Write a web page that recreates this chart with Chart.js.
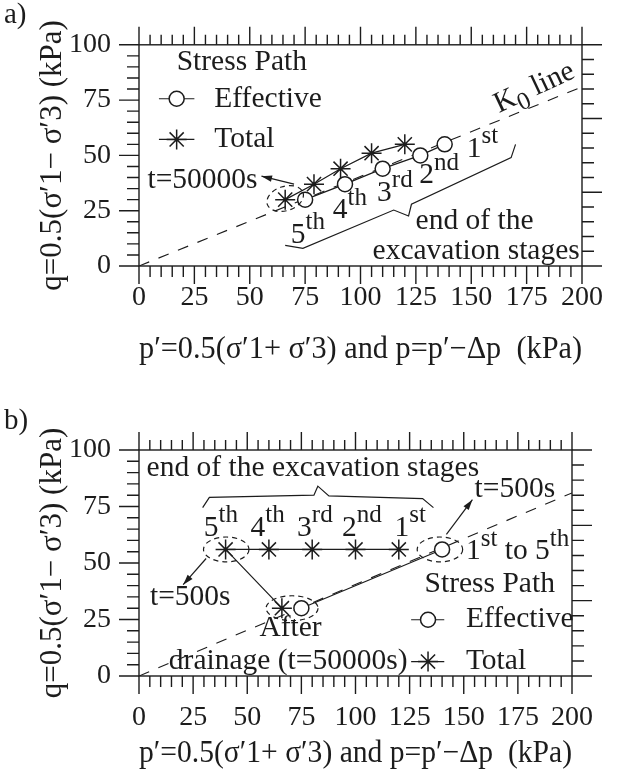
<!DOCTYPE html>
<html>
<head>
<meta charset="utf-8">
<script src="https://cdn.jsdelivr.net/npm/chart.js@4.4.0/dist/chart.umd.min.js"></script>
<style>
  html, body { margin: 0; padding: 0; background: #fff; }
  canvas { display: block; }
</style>
</head>
<body>
<canvas id="chartA" width="618" height="388"></canvas>
<canvas id="chartB" width="618" height="388"></canvas>
<script>
// tick labels
const xTicks = [0, 25, 50, 75, 100, 125, 150, 175, 200];
const yTicks = [0, 25, 50, 75, 100];
const minorStep = 5;

// K0 line
const k0P = [0, 200];
const k0Q = [0, 81];

// a) end of excavation stages 1st..5th
const effPA = [138, 127, 110, 93, 75];
const effQA = [55, 50, 44, 37, 30];
const totPA = [120, 105, 91, 79, 66];
const totQA = [55, 51, 44, 37, 30];

// b) stages 1st..5th then after drainage
const effPB = [140, 75];
const effQB = [56, 30];
const totPB = [120, 100, 80, 60, 40, 66];
const totQB = [56, 56, 56, 56, 56, 30];

const FONT = "'Liberation Serif', 'Times New Roman', serif";
const INK = '#1c1c1c';

const zip = (xs, ys) => xs.map((v, i) => ({ x: v, y: ys[i] }));

function richText(ctx, parts, x, y, size, align) {
  const fontFor = p => (p[1] ? size * 0.85 : size) + 'px ' + FONT;
  const widths = parts.map(p => { ctx.font = fontFor(p); return ctx.measureText(p[0]).width; });
  const total = widths.reduce((a, b) => a + b, 0);
  let cx = align === 'center' ? x - total / 2 : align === 'right' ? x - total : x;
  parts.forEach((p, i) => {
    ctx.font = fontFor(p);
    const dy = p[1] === 1 ? -size * 0.42 : p[1] === -1 ? size * 0.3 : 0;
    ctx.fillText(p[0], cx, y + dy);
    cx += widths[i];
  });
}

function drawMarker(ctx, style, x, y) {
  ctx.beginPath();
  if (style === 'circle') {
    ctx.arc(x, y, 7.5, 0, Math.PI * 2);
    ctx.fillStyle = '#fff';
    ctx.fill();
  } else {
    for (let k = 0; k < 4; k++) {
      const a = k * Math.PI / 4;
      ctx.moveTo(x - 10 * Math.cos(a), y - 10 * Math.sin(a));
      ctx.lineTo(x + 10 * Math.cos(a), y + 10 * Math.sin(a));
    }
  }
  ctx.stroke();
}

// box frame with outward ticks on all four sides
const frameTicks = {
  id: 'frameTicks',
  afterDraw(chart) {
    const { ctx, chartArea: a, scales } = chart;
    ctx.save();
    ctx.strokeStyle = INK;
    ctx.lineWidth = 1.4;
    ctx.strokeRect(a.left, a.top, a.right - a.left, a.bottom - a.top);
    ctx.beginPath();
    for (let v = scales.x.min; v <= scales.x.max; v += minorStep) {
      const x = scales.x.getPixelForValue(v);
      const major = xTicks.includes(v);
      ctx.moveTo(x, a.bottom); ctx.lineTo(x, a.bottom + (major ? 18 : 11));
      ctx.moveTo(x, a.top); ctx.lineTo(x, a.top - (major ? 18 : 10));
    }
    for (let v = scales.y.min; v <= scales.y.max; v += minorStep) {
      const y = scales.y.getPixelForValue(v);
      ctx.moveTo(a.left, y); ctx.lineTo(a.left - (yTicks.includes(v) ? 20 : 12), y);
    }
    for (let i = 0; i <= 15; i++) {
      const y = a.top + (a.bottom - a.top) * i / 15;
      ctx.moveTo(a.right, y); ctx.lineTo(a.right + (i % 5 === 0 ? 20 : 12), y);
    }
    ctx.stroke();
    ctx.restore();
  }
};

// labels, braces, ellipses, arrows and the inset legend
const notes = {
  id: 'notes',
  afterDatasetsDraw(chart, args, opts) {
    const { ctx, scales } = chart;
    const X = v => scales.x.getPixelForValue(v);
    const Y = v => scales.y.getPixelForValue(v);
    ctx.save();
    ctx.strokeStyle = INK;
    ctx.fillStyle = INK;
    ctx.lineWidth = 1.2;

    (opts.lines || []).forEach(l => {
      ctx.beginPath();
      l.forEach((p, i) => i ? ctx.lineTo(X(p[0]), Y(p[1])) : ctx.moveTo(X(p[0]), Y(p[1])));
      ctx.stroke();
    });

    ctx.setLineDash([5, 4]);
    (opts.ellipses || []).forEach(e => {
      const rx = Math.abs(X(e.rx) - X(0));
      const ry = Math.abs(Y(e.ry) - Y(0));
      ctx.beginPath();
      ctx.ellipse(X(e.x), Y(e.y), rx, ry, (e.rot || 0) * Math.PI / 180, 0, Math.PI * 2);
      ctx.stroke();
    });
    ctx.setLineDash([]);

    (opts.arrows || []).forEach(ar => {
      const x1 = X(ar[0][0]), y1 = Y(ar[0][1]), x2 = X(ar[1][0]), y2 = Y(ar[1][1]);
      const ang = Math.atan2(y2 - y1, x2 - x1);
      ctx.beginPath();
      ctx.moveTo(x1, y1); ctx.lineTo(x2, y2);
      ctx.stroke();
      ctx.beginPath();
      ctx.moveTo(x2, y2);
      ctx.lineTo(x2 - 11 * Math.cos(ang - 0.3), y2 - 11 * Math.sin(ang - 0.3));
      ctx.lineTo(x2 - 11 * Math.cos(ang + 0.3), y2 - 11 * Math.sin(ang + 0.3));
      ctx.closePath();
      ctx.fill();
    });

    (opts.legend || []).forEach(it => {
      const y = Y(it.y);
      ctx.lineWidth = 1.2;
      ctx.beginPath();
      ctx.moveTo(X(it.x1), y); ctx.lineTo(X(it.x2), y);
      ctx.stroke();
      ctx.lineWidth = 1.5;
      drawMarker(ctx, it.style, X(it.xm), y);
      ctx.fillStyle = INK;
    });

    ctx.textBaseline = 'middle';
    (opts.texts || []).forEach(t => {
      ctx.save();
      ctx.translate(X(t.x), Y(t.y));
      if (t.rot) ctx.rotate(t.rot * Math.PI / 180);
      ctx.fillStyle = INK;
      richText(ctx, t.parts, 0, 0, t.size || 29.5, t.align || 'left');
      ctx.restore();
    });
    ctx.restore();
  }
};

const tickFont = { family: FONT, size: 28 };
const titleFont = { family: FONT, size: 31 };
const xTitle = 'p\u2032=0.5(\u03c3\u20321+ \u03c3\u20323) and p=p\u2032\u2212\u0394p  (kPa)';
const yTitle = 'q=0.5(\u03c3\u20321\u2212 \u03c3\u20323) (kPa)';

function makeChart(id, cfg) {
  const plotTop = cfg.plotTop, plotBottom = cfg.plotBottom;
  return new Chart(document.getElementById(id), {
    type: 'scatter',
    data: {
      datasets: [
        {
          label: 'Effective',
          data: zip(cfg.effP, cfg.effQ),
          showLine: true,
          borderColor: INK,
          borderWidth: 1.2,
          pointStyle: 'circle',
          pointRadius: 7.5,
          pointBorderWidth: 1.5,
          pointBackgroundColor: '#fff',
          pointBorderColor: INK
        },
        {
          label: 'Total',
          data: zip(cfg.totP, cfg.totQ),
          showLine: true,
          borderColor: INK,
          borderWidth: 1.2,
          pointStyle: 'star',
          pointRadius: 10,
          pointBorderWidth: 1.5,
          pointBorderColor: INK
        },
        {
          label: 'K0 line',
          data: zip(k0P, k0Q),
          showLine: true,
          borderColor: INK,
          borderWidth: 1.1,
          borderDash: [11, 10],
          pointRadius: 0
        }
      ]
    },
    options: {
      responsive: false,
      animation: false,
      layout: { padding: { top: plotTop, right: 22, left: 0, bottom: 0 } },
      scales: {
        x: {
          type: 'linear', min: 0, max: 200,
          afterBuildTicks: s => { s.ticks = xTicks.map(v => ({ value: v })); },
          afterFit: s => { s.height = 388 - plotBottom; },
          grid: { display: false, drawTicks: false },
          border: { display: false },
          ticks: { font: tickFont, color: INK, padding: cfg.xPad, maxRotation: 0, autoSkip: false },
          title: { display: true, text: xTitle, font: titleFont, color: INK, padding: { top: 0, bottom: cfg.titlePad } }
        },
        y: {
          type: 'linear', min: 0, max: 100,
          afterBuildTicks: s => { s.ticks = yTicks.map(v => ({ value: v })); },
          afterFit: s => { s.width = 139; },
          grid: { display: false, drawTicks: false },
          border: { display: false },
          ticks: { font: tickFont, color: INK, padding: 28 },
          title: { display: true, text: yTitle, font: titleFont, color: INK, padding: { top: 34, bottom: 0 } }
        }
      },
      plugins: {
        legend: { display: false },
        tooltip: { enabled: false },
        notes: cfg.notes
      }
    },
    plugins: [frameTicks, notes, {
      id: 'panelTag',
      afterDraw(chart) {
        const ctx = chart.ctx;
        ctx.save();
        ctx.fillStyle = INK;
        ctx.font = '29px ' + FONT;
        ctx.textBaseline = 'middle';
        ctx.fillText(cfg.tag, 4, chart.chartArea.top - 29);
        ctx.restore();
      }
    }]
  });
}

makeChart('chartA', {
  tag: 'a)', plotTop: 40, plotBottom: 266, xPad: 15, titlePad: 20,
  effP: effPA, effQ: effQA, totP: totPA, totQ: totQA,
  notes: {
    lines: [[[66, 9.3], [74, 8], [115, 25.3], [121.7, 22.6], [123, 27.9], [168, 49], [170, 55]]],
    ellipses: [{ x: 66, y: 30.5, rx: 8.5, ry: 5.5, rot: -18 }],
    arrows: [[[70, 37], [55.3, 40.6]]],
    legend: [
      { x1: 9, x2: 25, xm: 17, y: 75.6, style: 'circle' },
      { x1: 9, x2: 25, xm: 17, y: 57.2, style: 'star' }
    ],
    texts: [
      { x: 17, y: 92, parts: [['Stress Path', 0]] },
      { x: 34, y: 75.6, parts: [['Effective', 0]] },
      { x: 34, y: 57.2, parts: [['Total', 0]] },
      { x: 53.5, y: 38.7, parts: [['t=50000s', 0]], align: 'right' },
      { x: 68.5, y: 14, parts: [['5', 0], ['th', 1]] },
      { x: 87.5, y: 25, parts: [['4', 0], ['th', 1]] },
      { x: 107.5, y: 33, parts: [['3', 0], ['rd', 1]] },
      { x: 126.5, y: 41, parts: [['2', 0], ['nd', 1]] },
      { x: 148, y: 53, parts: [['1', 0], ['st', 1]] },
      { x: 151.5, y: 20.4, parts: [['end of the', 0]], align: 'center' },
      { x: 199, y: 6.5, parts: [['excavation stages', 0]], align: 'right' },
      { x: 178.5, y: 80.5, parts: [['K', 0], ['0', -1], [' line', 0]], align: 'center', rot: -25 }
    ]
  }
});

makeChart('chartB', {
  tag: 'b)', plotTop: 62, plotBottom: 288, xPad: 25, titlePad: 4,
  effP: effPB, effQ: effQB, totP: totPB, totQ: totQB,
  notes: {
    lines: [[[29.4, 74.5], [32.5, 79], [80.8, 80], [82.6, 84], [87.7, 79.7], [131, 78.5], [136, 74.5]]],
    ellipses: [
      { x: 40.3, y: 56, rx: 10.5, ry: 5.5 },
      { x: 139, y: 56, rx: 10.5, ry: 5.5 },
      { x: 70.7, y: 30, rx: 12, ry: 5.5 }
    ],
    arrows: [[[31, 52], [20.4, 40.4]], [[142, 62.7], [154, 78]]],
    legend: [
      { x1: 125.7, x2: 141, xm: 133.5, y: 24.9, style: 'circle' },
      { x1: 125.7, x2: 141, xm: 133.5, y: 6.4, style: 'star' }
    ],
    texts: [
      { x: 3.5, y: 91.8, parts: [['end of the excavation stages', 0]] },
      { x: 29.9, y: 65.5, parts: [['5', 0], ['th', 1]] },
      { x: 51.5, y: 65.5, parts: [['4', 0], ['th', 1]] },
      { x: 73, y: 65.5, parts: [['3', 0], ['rd', 1]] },
      { x: 93.8, y: 65.5, parts: [['2', 0], ['nd', 1]] },
      { x: 118, y: 65.5, parts: [['1', 0], ['st', 1]] },
      { x: 23.7, y: 35, parts: [['t=500s', 0]], align: 'center' },
      { x: 155, y: 82.7, parts: [['t=500s', 0]] },
      { x: 151, y: 55, parts: [['1', 0], ['st', 1], [' to 5', 0], ['th', 1]] },
      { x: 162, y: 40.4, parts: [['Stress Path', 0]], align: 'center' },
      { x: 151, y: 24.9, parts: [['Effective', 0]] },
      { x: 151, y: 6.4, parts: [['Total', 0]] },
      { x: 70, y: 21.2, parts: [['After', 0]], align: 'center' },
      { x: 124, y: 6.4, parts: [['drainage (t=50000s)', 0]], align: 'right' }
    ]
  }
});
</script>
</body>
</html>
